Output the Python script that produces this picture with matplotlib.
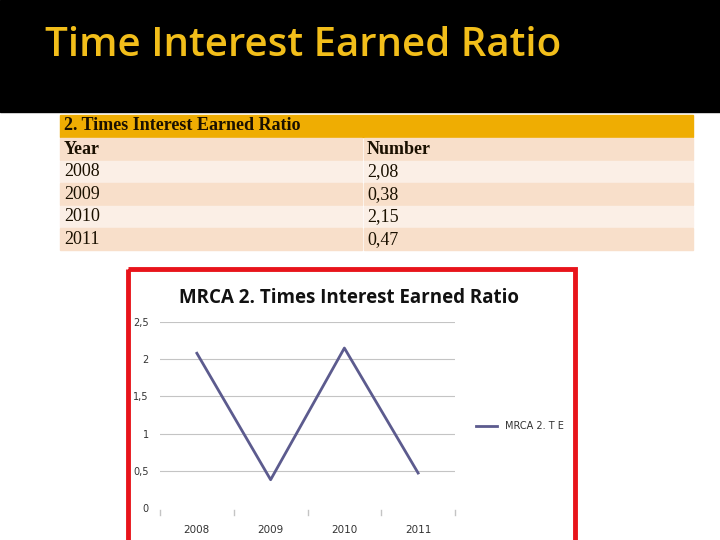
import matplotlib
matplotlib.use("Agg")
import matplotlib.pyplot as plt
from matplotlib.patches import Rectangle

# donnees du tableau et du graphique
table_title = "2. Times Interest Earned Ratio"
col_headers = ["Year", "Number"]
years = ["2008", "2009", "2010", "2011"]
values = [2.08, 0.38, 2.15, 0.47]
value_labels = ["2,08", "0,38", "2,15", "0,47"]
y_ticks = [0, 0.5, 1, 1.5, 2, 2.5]
y_tick_labels = ["0", "0,5", "1", "1,5", "2", "2,5"]

fig = plt.figure(figsize=(7.2, 5.4), dpi=100)
fig.patch.set_facecolor("white")

# fond en pixels pour la diapo
bg = fig.add_axes([0, 0, 1, 1])
bg.set_xlim(0, 720)
bg.set_ylim(540, 0)
bg.axis("off")

bg.add_patch(Rectangle((0, 0), 720, 112, color="black"))
bg.text(45, 46, "Time Interest Earned Ratio", color="#F2BE1A", fontsize=29,
        family="Open Sans", fontweight="semibold", va="center", ha="left")

# tableau
x0, x1, xs = 60, 693, 362
bg.add_patch(Rectangle((x0, 115), x1 - x0, 21.5, color="#EFAD02"))
bg.text(64, 126, table_title, family="Liberation Serif", fontsize=13,
        fontweight="bold", color="#1a1000", va="center")
rows = [col_headers] + [[y, v] for y, v in zip(years, value_labels)]
row_top = 138
row_h = 22.5
for i, row in enumerate(rows):
    top = row_top + i * row_h
    c = "#F8DFCA" if i % 2 == 0 else "#FBEFE6"
    bg.add_patch(Rectangle((x0, top), xs - x0, row_h - 1, color=c))
    bg.add_patch(Rectangle((xs + 2, top), x1 - xs - 2, row_h - 1, color=c))
    w = "bold" if i == 0 else "normal"
    bg.text(64, top + row_h / 2, row[0], family="Liberation Serif", fontsize=13,
            fontweight=w, color="#1a1000", va="center")
    bg.text(367, top + row_h / 2, row[1], family="Liberation Serif", fontsize=13,
            fontweight=w, color="#1a1000", va="center")

# cadre rouge du graphique
bg.add_patch(Rectangle((128, 269), 447, 280, fill=False, edgecolor="#E8141B",
                       linewidth=3.5))
bg.text(349, 298, "MRCA 2. Times Interest Earned Ratio", family="Open Sans",
        fontsize=13.5, fontweight="bold", color="#111111", ha="center", va="center")

# graphique
ax = fig.add_axes([160 / 720, (540 - 508) / 540, 295 / 720, (508 - 322) / 540])
xpos = list(range(len(years)))
ax.plot(xpos, values, color="#5C5B8E", linewidth=2, label="MRCA 2. T E")
ax.set_xlim(-0.5, len(years) - 0.5)
ax.set_ylim(0, 2.5)
ax.set_yticks(y_ticks)
ax.set_yticklabels(y_tick_labels)
ax.set_xticks(xpos)
ax.set_xticklabels(years)
ax.grid(axis="y", color="#C4C4C4", linewidth=0.8)
ax.get_ygridlines()[0].set_visible(False)
for s in ax.spines.values():
    s.set_visible(False)
ax.tick_params(axis="y", length=0, labelsize=7, labelcolor="#333333", pad=8)
ax.tick_params(axis="x", length=0, labelsize=7.5, labelcolor="#333333", pad=12)
for xb in [-0.5, 0.5, 1.5, 2.5, 3.5]:
    ax.plot([xb, xb], [-0.03, -0.1], color="#C4C4C4", linewidth=1, clip_on=False)
ax.legend(loc="center left", bbox_to_anchor=(1.04, 0.44), frameon=False,
          fontsize=7, handlelength=2.2, labelcolor="#333333")

fig.savefig("out.png", dpi=100)
